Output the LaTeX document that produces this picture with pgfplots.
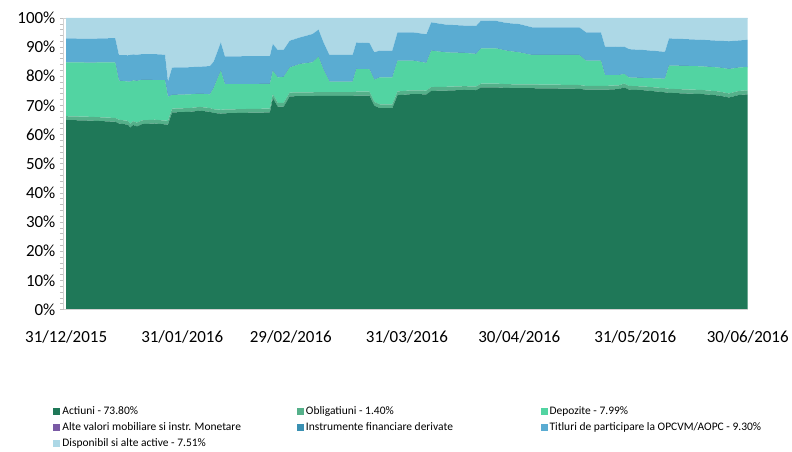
\documentclass[border=0pt]{standalone}
\usepackage{pgfplots}
\pgfplotsset{compat=1.18}
\usepackage{pgfplotstable}
\usepackage{fontspec}
\setmainfont{Carlito}
\definecolor{cAct}{HTML}{1F7858}
\definecolor{cObl}{HTML}{55B08A}
\definecolor{cDep}{HTML}{52D4A2}
\definecolor{cAlt}{HTML}{7A5AA5}
\definecolor{cIns}{HTML}{3A90B2}
\definecolor{cTit}{HTML}{5AACD2}
\definecolor{cDis}{HTML}{ADD8E6}
\pgfplotstableread{
day A O D Alt Ins T Dis
0 65.0 1.3 18.5 0 0 8.2 7.0
6.4 64.8 1.3 18.6 0 0 8.2 7.1
13.1 64.4 1.3 19.1 0 0 8.3 6.9
14.1 63.8 1.3 13.4 0 0 8.8 12.7
16.5 63.4 1.3 13.5 0 0 9.0 12.8
17.1 62.4 1.3 14.5 0 0 9.1 12.7
17.9 63.3 1.3 14.0 0 0 8.9 12.5
18.9 62.8 1.3 14.3 0 0 9.0 12.6
20.3 63.6 1.3 13.9 0 0 8.8 12.4
23.7 63.8 1.3 13.6 0 0 8.9 12.4
26.4 63.5 1.3 13.9 0 0 8.7 12.6
27.2 63.4 1.3 8.3 0 0 5.2 21.8
28.3 67.6 1.3 4.7 0 0 9.4 17.0
33.0 67.8 1.3 4.7 0 0 9.3 16.9
35.7 68.2 1.3 4.5 0 0 9.3 16.7
38.4 67.8 1.3 4.7 0 0 9.7 16.5
39.4 67.4 1.3 7.3 0 0 9.0 15.0
41.3 67.2 1.3 13.4 0 0 9.7 8.4
42.4 67.3 1.3 8.7 0 0 9.5 13.2
49.0 67.5 1.3 8.5 0 0 9.6 13.1
54.4 67.6 1.3 8.5 0 0 9.5 13.1
55.2 72.5 1.3 8.1 0 0 9.2 8.9
56.5 69.6 1.3 8.7 0 0 9.4 11.0
58.1 69.6 1.3 8.9 0 0 9.3 10.9
59.7 73.1 1.3 8.6 0 0 9.2 7.8
62.4 73.2 1.3 9.7 0 0 9.1 6.7
65.8 73.2 1.3 10.3 0 0 9.7 5.5
67.4 73.3 1.3 12.1 0 0 9.3 4.0
68.7 73.3 1.3 7.7 0 0 9.4 8.3
70.3 73.3 1.3 3.6 0 0 9.1 12.7
76.5 73.3 1.3 3.6 0 0 9.1 12.7
77.5 73.4 1.3 7.8 0 0 9.1 8.4
81.0 73.4 1.3 7.7 0 0 9.0 8.6
82.3 69.9 1.3 7.6 0 0 9.4 11.8
83.7 69.1 1.3 9.2 0 0 9.2 11.2
87.1 69.1 1.3 9.2 0 0 9.2 11.2
88.5 73.5 1.3 10.6 0 0 9.7 4.9
92.5 73.9 1.3 10.2 0 0 9.7 4.9
96.2 73.8 1.3 9.5 0 0 9.8 5.6
97.5 75.0 1.3 12.5 0 0 9.7 1.5
101.5 75.1 1.3 11.8 0 0 9.5 2.3
106.3 75.3 1.3 11.4 0 0 9.4 2.6
109.5 75.2 1.3 11.2 0 0 9.6 2.7
110.8 76.2 1.3 12.1 0 0 9.5 0.9
114.8 76.2 1.3 12.1 0 0 9.4 1.0
117.5 76.0 1.3 11.5 0 0 9.5 1.7
121.0 75.9 1.3 11.0 0 0 9.7 2.1
124.4 75.9 1.3 10.1 0 0 9.5 3.2
131.6 75.8 1.3 10.2 0 0 9.5 3.2
137.0 75.7 1.3 10.3 0 0 9.5 3.2
138.8 75.4 1.3 8.7 0 0 9.7 4.9
142.8 75.4 1.3 8.7 0 0 9.7 4.9
143.9 75.4 1.3 3.7 0 0 9.8 9.8
147.6 75.6 1.3 3.5 0 0 9.7 9.9
149.0 76.2 1.3 3.3 0 0 9.4 9.8
150.3 75.4 1.3 2.9 0 0 9.7 10.7
154.3 75.2 1.3 2.9 0 0 9.6 11.0
159.9 74.5 1.4 3.3 0 0 9.2 11.6
161.0 74.3 1.4 8.0 0 0 9.3 7.0
169.8 73.9 1.4 8.1 0 0 9.1 7.5
174.3 73.4 1.4 8.2 0 0 9.2 7.8
177.0 72.7 1.4 8.4 0 0 9.5 8.0
179.7 73.6 1.4 8.0 0 0 9.3 7.7
182.0 73.8 1.4 7.99 0 0 9.30 7.51
}\data
\begin{document}
\begin{tikzpicture}
\begin{axis}[
  scale only axis,
  width=685pt, height=292pt,
  xmin=-0.6, xmax=182, ymin=0, ymax=100,
  stack plots=y,
  area style,
  axis x line*=bottom, axis y line*=left,
  axis line style={draw=gray!35, line width=0.8pt},
  xtick={0,31,60,91,121,152,182},
  xticklabels={31/12/2015,31/01/2016,29/02/2016,31/03/2016,30/04/2016,31/05/2016,30/06/2016},
  x tick style={draw=none},
  ytick={0,10,...,100},
  yticklabels={0\%,10\%,20\%,30\%,40\%,50\%,60\%,70\%,80\%,90\%,100\%},
  minor y tick num=4,
  tick align=outside,
  y tick style={draw=gray!50, line width=0.6pt},
  major tick length=4pt, minor tick length=4pt,
  ticklabel style={font=\fontsize{17}{20}\selectfont},
  xticklabel style={yshift=-14pt},
  yticklabel style={xshift=-1pt},
  legend columns=3,
  legend style={at={(-0.02,-0.318)}, anchor=north west, draw=none, fill=none,
    font=\fontsize{11.5}{13}\selectfont, row sep=2.5pt,
    /tikz/every even column/.append style={column sep=1pt}},
  legend cell align=left,
  legend image code/.code={\path[#1,draw=none] (0pt,-3.5pt) rectangle (7pt,3.5pt);},
]
\addplot[fill=cAct, draw=none] table[x=day,y=A]{\data} \closedcycle;
\addlegendentry{\makebox[232pt][l]{Actiuni - 73.80\%}}
\addplot[fill=cObl, draw=none] table[x=day,y=O]{\data} \closedcycle;
\addlegendentry{\makebox[232pt][l]{Obligatiuni - 1.40\%}}
\addplot[fill=cDep, draw=none] table[x=day,y=D]{\data} \closedcycle;
\addlegendentry{Depozite - 7.99\%}
\addplot[fill=cAlt, draw=none] table[x=day,y=Alt]{\data} \closedcycle;
\addlegendentry{Alte valori mobiliare si instr. Monetare}
\addplot[fill=cIns, draw=none] table[x=day,y=Ins]{\data} \closedcycle;
\addlegendentry{Instrumente financiare derivate}
\addplot[fill=cTit, draw=none] table[x=day,y=T]{\data} \closedcycle;
\addlegendentry{Titluri de participare la OPCVM/AOPC - 9.30\%}
\addplot[fill=cDis, draw=none] table[x=day,y=Dis]{\data} \closedcycle;
\addlegendentry{Disponibil si alte active - 7.51\%}
\draw[gray!35, line width=0.8pt] (rel axis cs:0,1) -- (rel axis cs:1,1);
\end{axis}
\path (current axis.south west) ++(-64pt,-136pt) rectangle ++(792pt,446pt);
\end{tikzpicture}
\end{document}
